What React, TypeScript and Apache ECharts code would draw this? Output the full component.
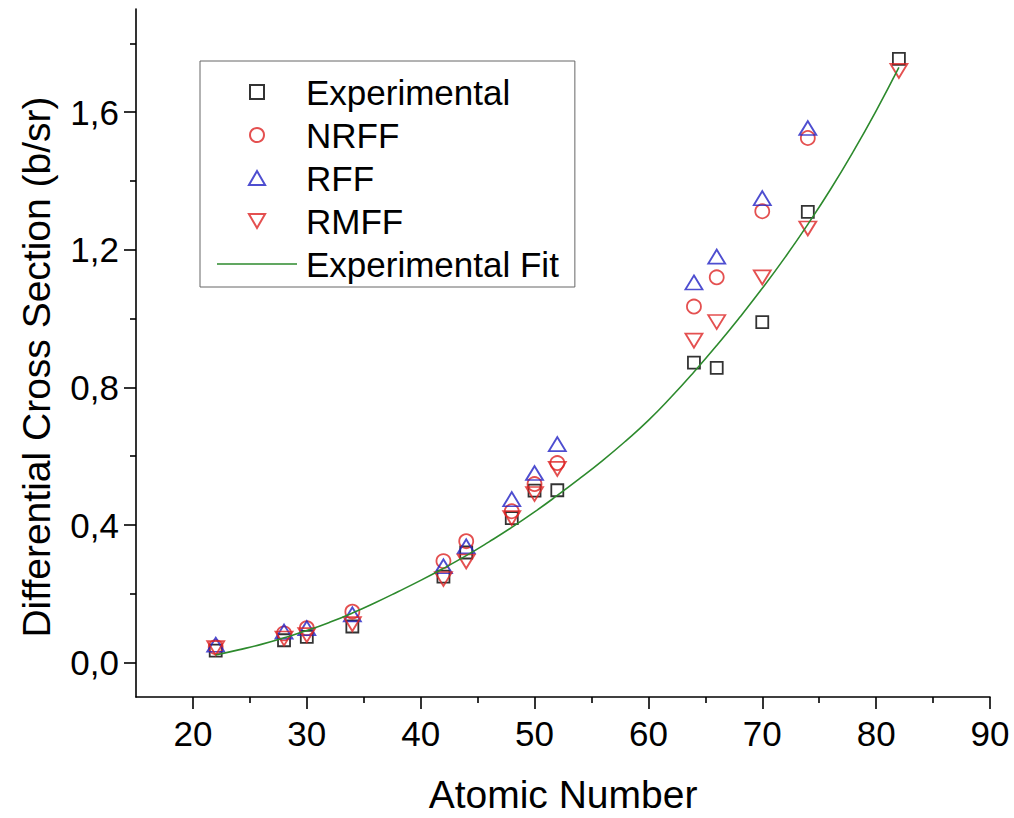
import React, { useEffect, useRef } from "react";
import * as echarts from "echarts";

// ---- data ----
const atomicNumbers = [22, 28, 30, 34, 42, 44, 48, 50, 52, 64, 66, 70, 74, 82];
const experimental = [0.035, 0.065, 0.075, 0.105, 0.25, 0.32, 0.42, 0.5, 0.501, 0.872, 0.857, 0.99, 1.31, 1.755];
const nrff = [0.045, 0.085, 0.1, 0.148, 0.295, 0.353, 0.44, 0.519, 0.58, 1.035, 1.12, 1.312, 1.525, null];
const rff = [0.052, 0.09, 0.1, 0.14, 0.28, 0.338, 0.475, 0.551, 0.635, 1.105, 1.18, 1.35, 1.554, null];
const rmff = [0.042, 0.07, 0.08, 0.112, 0.243, 0.294, 0.42, 0.49, 0.563, 0.936, 0.99, 1.12, 1.262, 1.72];

const fitZ = [22, 24, 26, 28, 30, 32, 34, 36, 38, 40, 42, 44, 46, 48, 50, 52, 54, 56, 58, 60, 62, 64, 66, 68, 70, 72, 74, 76, 78, 80, 82];
const fitValues = [0.022, 0.037, 0.053, 0.072, 0.093, 0.117, 0.144, 0.174, 0.206, 0.239, 0.274, 0.311, 0.351, 0.393, 0.438, 0.486, 0.536, 0.588, 0.644, 0.704, 0.772, 0.845, 0.922, 1.003, 1.088, 1.178, 1.274, 1.376, 1.486, 1.604, 1.73];

const xMajorTicks = [20, 30, 40, 50, 60, 70, 80, 90];
const xMinorTicks = [25, 35, 45, 55, 65, 75, 85];
const yMajorTicks = [0, 0.4, 0.8, 1.2, 1.6];
const yMinorTicks = [0.2, 0.6, 1.0, 1.4, 1.8];

const seriesNames = ["Experimental", "NRFF", "RFF", "RMFF", "Experimental Fit"];

const FONT = "'Liberation Sans', Arial, sans-serif";
const BLACK = "#000";
const RED = "#dd2424";
const BLUE = "#2222c4";
const GREEN = "#2d8a2d";
const SQUARE = "path://M0,0L10,0L10,10L0,10Z";
const UP_TRIANGLE = "path://M10,0L20,17.3L0,17.3Z";
const DOWN_TRIANGLE = "path://M0,0L20,0L10,17.3Z";
const LINE_ICON = "path://M0,0L80,0L80,1.6L0,1.6Z";

function pairs(xs: number[], ys: (number | null)[]) {
  const out: number[][] = [];
  xs.forEach((x, i) => {
    const y = ys[i];
    if (y !== null && y !== undefined) out.push([x, y]);
  });
  return out;
}

export default function App() {
  const ref = useRef<HTMLDivElement>(null);

  useEffect(() => {
    if (!ref.current) return;
    const chart = echarts.init(ref.current, undefined, { renderer: "svg" });

    const axisLineStyle = { color: BLACK, width: 1.6 };
    const labelStyle = { fontFamily: FONT, fontSize: 35, color: BLACK };

    const markerItem = (c: string) => ({
      color: "rgba(255,255,255,0)",
      borderColor: c,
      borderWidth: 1.8,
    });

    chart.setOption({
      animation: false,
      backgroundColor: "#fff",
      grid: {
        left: 136,
        top: 9,
        right: 24,
        bottom: 121,
        containLabel: false,
        outerBoundsMode: "none",
      },
      legend: {
        orient: "vertical",
        left: 200,
        top: 61,
        itemWidth: 80,
        itemHeight: 14,
        itemGap: 7,
        padding: [13, 16, 5, 17],
        borderColor: "#666",
        borderWidth: 1,
        backgroundColor: "#fff",
        symbolKeepAspect: true,
        textStyle: {
          fontFamily: FONT,
          fontSize: 35,
          color: BLACK,
          lineHeight: 36,
          padding: [0, 0, 0, 4],
        },
        data: [
          { name: seriesNames[0] },
          { name: seriesNames[1] },
          { name: seriesNames[2] },
          { name: seriesNames[3] },
          { name: seriesNames[4], icon: LINE_ICON },
        ],
      },
      xAxis: [
        {
          type: "value",
          min: 15,
          max: 90,
          position: "bottom",
          axisLine: { show: true, onZero: false, lineStyle: axisLineStyle },
          axisTick: { show: true, inside: false, length: 12, customValues: xMajorTicks, lineStyle: axisLineStyle },
          axisLabel: { ...labelStyle, margin: 19, customValues: xMajorTicks },
          splitLine: { show: false },
          name: "Atomic Number",
          nameLocation: "middle",
          nameGap: 78,
          nameTextStyle: { fontFamily: FONT, fontSize: 39, lineHeight: 39, color: BLACK },
        },
        {
          type: "value",
          min: 15,
          max: 90,
          position: "bottom",
          axisLine: { show: false, onZero: false },
          axisTick: { show: true, inside: false, length: 6, customValues: xMinorTicks, lineStyle: axisLineStyle },
          axisLabel: { show: false },
          splitLine: { show: false },
        },
      ],
      yAxis: [
        {
          type: "value",
          min: -0.1,
          max: 1.9,
          position: "left",
          axisLine: { show: true, onZero: false, lineStyle: axisLineStyle },
          axisTick: { show: true, inside: false, length: 12, customValues: yMajorTicks, lineStyle: axisLineStyle },
          axisLabel: {
            ...labelStyle,
            margin: 17,
            customValues: yMajorTicks,
            formatter: (v: number) => v.toFixed(1).replace(".", ","),
          },
          splitLine: { show: false },
          name: "Differential Cross Section (b/sr)",
          nameLocation: "middle",
          nameGap: 80,
          nameTextStyle: { fontFamily: FONT, fontSize: 39, color: BLACK, padding: [0, 28, 0, 0] },
        },
        {
          type: "value",
          min: -0.1,
          max: 1.9,
          position: "left",
          axisLine: { show: false, onZero: false },
          axisTick: { show: true, inside: false, length: 6, customValues: yMinorTicks, lineStyle: axisLineStyle },
          axisLabel: { show: false },
          splitLine: { show: false },
        },
      ],
      series: [
        {
          name: seriesNames[0],
          type: "scatter",
          symbol: SQUARE,
          symbolSize: 12,
          symbolKeepAspect: true,
          itemStyle: markerItem(BLACK),
          data: pairs(atomicNumbers, experimental),
          z: 3,
        },
        {
          name: seriesNames[1],
          type: "scatter",
          symbol: "circle",
          symbolSize: 14,
          itemStyle: markerItem(RED),
          data: pairs(atomicNumbers, nrff),
          z: 3,
        },
        {
          name: seriesNames[2],
          type: "scatter",
          symbol: UP_TRIANGLE,
          symbolSize: [17, 14],
          itemStyle: markerItem(BLUE),
          data: pairs(atomicNumbers, rff),
          z: 3,
        },
        {
          name: seriesNames[3],
          type: "scatter",
          symbol: DOWN_TRIANGLE,
          symbolSize: [17, 14],
          itemStyle: markerItem(RED),
          data: pairs(atomicNumbers, rmff),
          z: 3,
        },
        {
          name: seriesNames[4],
          type: "line",
          smooth: true,
          showSymbol: false,
          symbol: "none",
          lineStyle: { color: GREEN, width: 1.6 },
          itemStyle: { color: GREEN },
          data: pairs(fitZ, fitValues),
          z: 4,
        },
      ],
    });

    return () => chart.dispose();
  }, []);

  return (
    <div
      ref={ref}
      style={{ position: "fixed", left: 0, top: 0, width: 1014, height: 818, background: "#fff" }}
    />
  );
}
